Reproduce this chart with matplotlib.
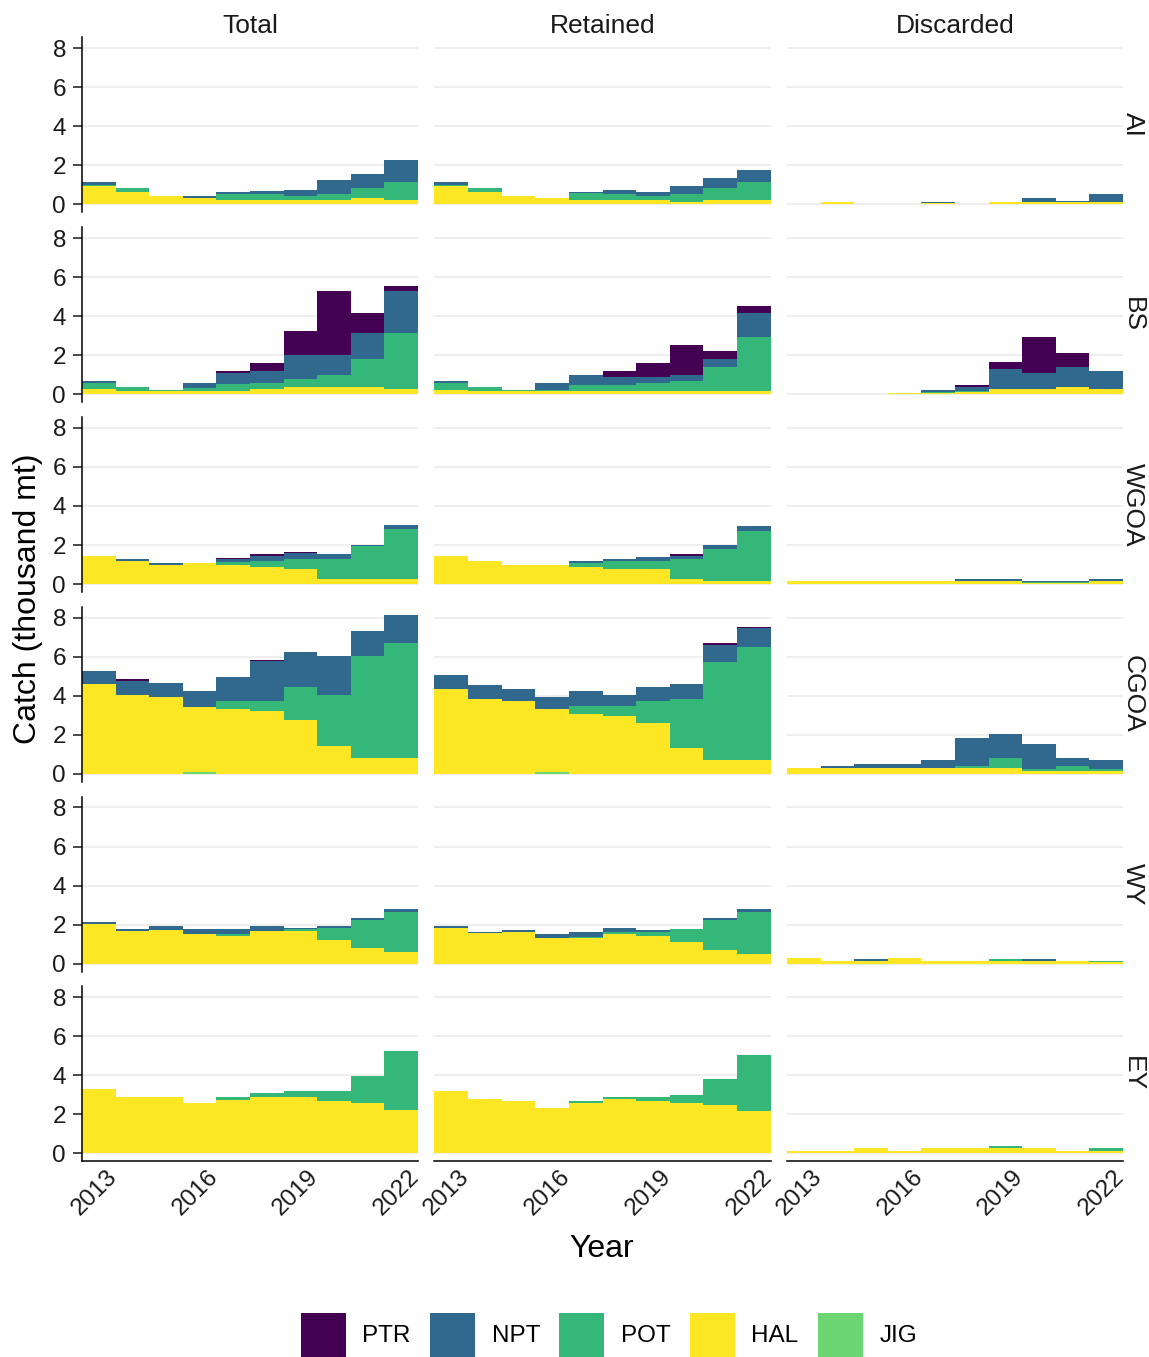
"""
Catch by gear, region and disposition (thousand mt), 2013-2022.

Faceted stacked step areas: rows are regions, columns are catch types.
"""

import numpy as np
import matplotlib
matplotlib.use("Agg")
import matplotlib.pyplot as plt
import matplotlib.transforms as mtransforms
from matplotlib.patches import Patch

plt.rcParams["font.family"] = ["Liberation Sans", "DejaVu Sans"]

YEARS = list(range(2013, 2023))
REGIONS = ["AI", "BS", "WGOA", "CGOA", "WY", "EY"]
CATCH_TYPES = ["Total", "Retained", "Discarded"]
GEARS = ["PTR", "NPT", "POT", "HAL", "JIG"]          # legend order
STACK_ORDER = ["JIG", "HAL", "POT", "NPT", "PTR"]    # bottom -> top
COLORS = {
    "PTR": "#440154",
    "NPT": "#31688E",
    "POT": "#35B779",
    "HAL": "#FDE725",
    "JIG": "#6BD672",
}
X_TICKS = [2013, 2016, 2019, 2022]
Y_TICKS = [0, 2, 4, 6, 8]

# --- catch values (thousand mt), one dict per panel, gear -> yearly values ---
AI_TOTAL = {
    "HAL": [0.95, 0.65, 0.45, 0.32, 0.22, 0.22, 0.22, 0.22, 0.35, 0.25],
    "POT": [0.05, 0.18, 0.00, 0.02, 0.33, 0.32, 0.20, 0.33, 0.50, 0.90],
    "NPT": [0.15, 0.02, 0.00, 0.08, 0.08, 0.17, 0.30, 0.70, 0.70, 1.13],
}
AI_RETAINED = {
    "HAL": [0.95, 0.62, 0.45, 0.33, 0.22, 0.22, 0.22, 0.12, 0.22, 0.22],
    "POT": [0.05, 0.20, 0.00, 0.00, 0.35, 0.33, 0.20, 0.43, 0.60, 0.93],
    "NPT": [0.15, 0.02, 0.00, 0.00, 0.08, 0.20, 0.23, 0.40, 0.53, 0.63],
}
AI_DISCARDED = {
    "HAL": [0.04, 0.12, 0.03, 0.03, 0.05, 0.04, 0.12, 0.12, 0.12, 0.12],
    "POT": [0.00, 0.00, 0.00, 0.00, 0.00, 0.00, 0.00, 0.00, 0.00, 0.02],
    "NPT": [0.00, 0.00, 0.00, 0.00, 0.08, 0.00, 0.00, 0.20, 0.08, 0.40],
}

BS_TOTAL = {
    "HAL": [0.25, 0.15, 0.15, 0.15, 0.15, 0.25, 0.35, 0.35, 0.35, 0.25],
    "POT": [0.35, 0.20, 0.07, 0.18, 0.40, 0.33, 0.43, 0.63, 1.45, 2.90],
    "NPT": [0.08, 0.00, 0.00, 0.27, 0.55, 0.62, 1.22, 1.02, 1.35, 2.15],
    "PTR": [0.00, 0.00, 0.00, 0.00, 0.10, 0.40, 1.25, 3.30, 1.00, 0.25],
}
BS_RETAINED = {
    "HAL": [0.22, 0.15, 0.15, 0.15, 0.15, 0.15, 0.15, 0.15, 0.15, 0.15],
    "POT": [0.38, 0.20, 0.07, 0.07, 0.30, 0.30, 0.43, 0.53, 1.25, 2.80],
    "NPT": [0.08, 0.00, 0.00, 0.36, 0.55, 0.45, 0.30, 0.32, 0.42, 1.20],
    "PTR": [0.00, 0.00, 0.00, 0.00, 0.00, 0.30, 0.72, 1.52, 0.40, 0.35],
}
BS_DISCARDED = {
    "HAL": [0.03, 0.03, 0.03, 0.08, 0.08, 0.12, 0.25, 0.25, 0.35, 0.25],
    "POT": [0.00, 0.00, 0.00, 0.00, 0.04, 0.03, 0.03, 0.03, 0.03, 0.02],
    "NPT": [0.00, 0.00, 0.00, 0.00, 0.10, 0.20, 1.03, 0.80, 1.02, 0.93],
    "PTR": [0.00, 0.00, 0.00, 0.00, 0.00, 0.10, 0.32, 1.84, 0.72, 0.00],
}

WGOA_TOTAL = {
    "HAL": [1.42, 1.20, 0.98, 1.10, 1.00, 0.88, 0.78, 0.28, 0.28, 0.28],
    "POT": [0.00, 0.00, 0.00, 0.00, 0.15, 0.32, 0.50, 1.02, 1.65, 2.55],
    "NPT": [0.00, 0.10, 0.10, 0.00, 0.12, 0.25, 0.29, 0.22, 0.09, 0.20],
    "PTR": [0.00, 0.00, 0.00, 0.00, 0.05, 0.07, 0.06, 0.00, 0.00, 0.02],
}
WGOA_RETAINED = {
    "HAL": [1.42, 1.20, 0.98, 0.98, 0.88, 0.78, 0.78, 0.28, 0.15, 0.15],
    "POT": [0.00, 0.00, 0.00, 0.00, 0.20, 0.42, 0.42, 1.02, 1.67, 2.57],
    "NPT": [0.00, 0.00, 0.00, 0.00, 0.12, 0.10, 0.20, 0.15, 0.20, 0.23],
    "PTR": [0.00, 0.00, 0.00, 0.00, 0.00, 0.00, 0.00, 0.07, 0.00, 0.00],
}
WGOA_DISCARDED = {
    "HAL": [0.15, 0.15, 0.15, 0.15, 0.15, 0.15, 0.15, 0.06, 0.06, 0.15],
    "POT": [0.00, 0.00, 0.00, 0.00, 0.00, 0.00, 0.00, 0.06, 0.06, 0.02],
    "NPT": [0.00, 0.00, 0.00, 0.00, 0.00, 0.10, 0.10, 0.03, 0.03, 0.08],
}

CGOA_TOTAL = {
    "JIG": [0.00, 0.00, 0.00, 0.08, 0.00, 0.00, 0.00, 0.00, 0.00, 0.00],
    "HAL": [4.62, 4.05, 3.92, 3.32, 3.30, 3.20, 2.78, 1.45, 0.80, 0.80],
    "POT": [0.00, 0.00, 0.00, 0.03, 0.42, 0.52, 1.67, 2.57, 5.25, 5.88],
    "NPT": [0.63, 0.72, 0.73, 0.82, 1.23, 2.08, 1.80, 2.03, 1.27, 1.47],
    "PTR": [0.00, 0.07, 0.00, 0.00, 0.00, 0.05, 0.00, 0.00, 0.00, 0.00],
}
CGOA_RETAINED = {
    "JIG": [0.00, 0.00, 0.00, 0.08, 0.00, 0.00, 0.00, 0.00, 0.00, 0.00],
    "HAL": [4.35, 3.82, 3.72, 3.22, 3.08, 2.98, 2.58, 1.32, 0.70, 0.70],
    "POT": [0.00, 0.00, 0.00, 0.00, 0.42, 0.52, 1.14, 2.50, 5.05, 5.78],
    "NPT": [0.70, 0.73, 0.63, 0.62, 0.75, 0.55, 0.73, 0.80, 0.87, 0.97],
    "PTR": [0.00, 0.00, 0.00, 0.00, 0.00, 0.00, 0.00, 0.00, 0.08, 0.07],
}
CGOA_DISCARDED = {
    "HAL": [0.28, 0.28, 0.28, 0.28, 0.28, 0.28, 0.28, 0.15, 0.15, 0.15],
    "POT": [0.00, 0.00, 0.00, 0.00, 0.00, 0.10, 0.54, 0.10, 0.23, 0.10],
    "NPT": [0.00, 0.10, 0.20, 0.20, 0.44, 1.47, 1.23, 1.30, 0.42, 0.45],
}

WY_TOTAL = {
    "HAL": [2.02, 1.65, 1.72, 1.52, 1.42, 1.65, 1.65, 1.20, 0.80, 0.58],
    "POT": [0.00, 0.03, 0.00, 0.00, 0.08, 0.03, 0.10, 0.65, 1.45, 2.07],
    "NPT": [0.10, 0.10, 0.23, 0.23, 0.25, 0.27, 0.10, 0.10, 0.10, 0.13],
}
WY_RETAINED = {
    "HAL": [1.85, 1.55, 1.62, 1.30, 1.30, 1.52, 1.42, 1.10, 0.70, 0.48],
    "POT": [0.00, 0.00, 0.00, 0.00, 0.05, 0.08, 0.18, 0.65, 1.55, 2.17],
    "NPT": [0.10, 0.07, 0.10, 0.20, 0.27, 0.22, 0.12, 0.00, 0.10, 0.13],
}
WY_DISCARDED = {
    "HAL": [0.28, 0.15, 0.15, 0.28, 0.15, 0.15, 0.15, 0.15, 0.15, 0.08],
    "POT": [0.00, 0.00, 0.00, 0.00, 0.00, 0.00, 0.10, 0.00, 0.00, 0.07],
    "NPT": [0.00, 0.00, 0.10, 0.00, 0.00, 0.00, 0.00, 0.10, 0.00, 0.00],
}

EY_TOTAL = {
    "HAL": [3.30, 2.88, 2.88, 2.58, 2.75, 2.88, 2.88, 2.68, 2.58, 2.25],
    "POT": [0.00, 0.00, 0.00, 0.00, 0.13, 0.20, 0.32, 0.52, 1.37, 3.00],
}
EY_RETAINED = {
    "HAL": [3.22, 2.80, 2.68, 2.35, 2.58, 2.78, 2.68, 2.58, 2.48, 2.15],
    "POT": [0.00, 0.00, 0.00, 0.00, 0.10, 0.12, 0.22, 0.42, 1.34, 2.90],
}
EY_DISCARDED = {
    "HAL": [0.15, 0.15, 0.28, 0.15, 0.28, 0.28, 0.28, 0.28, 0.15, 0.15],
    "POT": [0.00, 0.00, 0.00, 0.00, 0.00, 0.00, 0.10, 0.00, 0.00, 0.13],
}

PANELS = {
    "AI": [AI_TOTAL, AI_RETAINED, AI_DISCARDED],
    "BS": [BS_TOTAL, BS_RETAINED, BS_DISCARDED],
    "WGOA": [WGOA_TOTAL, WGOA_RETAINED, WGOA_DISCARDED],
    "CGOA": [CGOA_TOTAL, CGOA_RETAINED, CGOA_DISCARDED],
    "WY": [WY_TOTAL, WY_RETAINED, WY_DISCARDED],
    "EY": [EY_TOTAL, EY_RETAINED, EY_DISCARDED],
}

GRID_COLOR = "#EBEBEB"
TEXT_COLOR = "#1A1A1A"


def panel_total(panel):
    """Stacked height of every year in one panel."""
    return np.sum([np.asarray(v, dtype=float) for v in panel.values()], axis=0)


def draw_panel(ax, panel):
    """Draw stacked step areas, one band per gear, bars one year wide."""
    edges = np.arange(YEARS[0] - 0.5, YEARS[-1] + 1.0, 1.0)
    base = np.zeros(len(YEARS))
    for gear in STACK_ORDER:
        if gear not in panel:
            continue
        vals = np.asarray(panel[gear], dtype=float)
        ax.stairs(base + vals, edges, baseline=base, fill=True,
                  color=COLORS[gear], linewidth=0)
        base = base + vals


ymax = max(panel_total(p).max() for row in PANELS.values() for p in row)

fig, axes = plt.subplots(len(REGIONS), len(CATCH_TYPES), sharex=True, sharey=True,
                         figsize=(11.49, 13.57), dpi=100)
fig.subplots_adjust(left=82 / 1149, right=1123 / 1149,
                    top=1 - 37.4 / 1357, bottom=1 - 1161.4 / 1357,
                    wspace=0.049, hspace=0.0846)

# nudge the rotated year labels a little to the right, as in the original
label_shift = mtransforms.ScaledTranslation(5 / 72, 0, fig.dpi_scale_trans)

for i, region in enumerate(REGIONS):
    for j, ctype in enumerate(CATCH_TYPES):
        ax = axes[i, j]
        draw_panel(ax, PANELS[region][j])

        ax.set_xlim(YEARS[0] - 0.5, YEARS[-1] + 0.5)
        ax.set_ylim(-0.05 * ymax, 1.05 * ymax)
        ax.set_xticks(X_TICKS)
        ax.set_yticks(Y_TICKS)
        ax.set_axisbelow(True)
        ax.yaxis.grid(True, color=GRID_COLOR, linewidth=1.2)
        ax.xaxis.grid(False)

        for side in ["top", "right", "left", "bottom"]:
            ax.spines[side].set_visible(False)
        ax.tick_params(axis="x", length=0, labelsize=17.5, colors=TEXT_COLOR,
                       labelbottom=(i == len(REGIONS) - 1), pad=3)
        ax.tick_params(axis="y", length=6.5, width=1.1, labelsize=17.5,
                       colors=TEXT_COLOR, labelleft=(j == 0), left=(j == 0), pad=5)

        if j == 0:
            ax.spines["left"].set_visible(True)
            ax.spines["left"].set_linewidth(1.1)
            ax.spines["left"].set_color("black")
        if i == len(REGIONS) - 1:
            ax.spines["bottom"].set_visible(True)
            ax.spines["bottom"].set_linewidth(1.1)
            ax.spines["bottom"].set_color("black")
            for lbl in ax.get_xticklabels():
                lbl.set_rotation(45)
                lbl.set_ha("right")
                lbl.set_va("top")
                lbl.set_rotation_mode("anchor")
                lbl.set_transform(lbl.get_transform() + label_shift)

        # facet strips
        if i == 0:
            ax.annotate(ctype, (0.5, 1.0), xycoords="axes fraction",
                        xytext=(0, 8.5), textcoords="offset points",
                        ha="center", va="center", fontsize=19, color=TEXT_COLOR)
        if j == len(CATCH_TYPES) - 1:
            ax.annotate(region, (1.0, 0.5), xycoords="axes fraction",
                        xytext=(7, 0), textcoords="offset points", rotation=-90,
                        ha="center", va="center", fontsize=19, color=TEXT_COLOR)

fig.text(28 / 1149, 1 - 599 / 1357, "Catch (thousand mt)", rotation=90,
         ha="center", va="center", fontsize=23, color="black")
fig.text(602 / 1149, 1 - 1249 / 1357, "Year", ha="center", va="center",
         fontsize=23, color="black")

handles = [Patch(facecolor=COLORS[g], edgecolor="none", label=g) for g in GEARS]
fig.legend(handles=handles, loc="center", bbox_to_anchor=(609 / 1149, 22 / 1357),
           ncol=len(GEARS), frameon=False, fontsize=17.5,
           handlelength=1.85, handleheight=2.45, handletextpad=0.68,
           columnspacing=0.8, borderpad=0)

fig.savefig("out.png", dpi=100)
